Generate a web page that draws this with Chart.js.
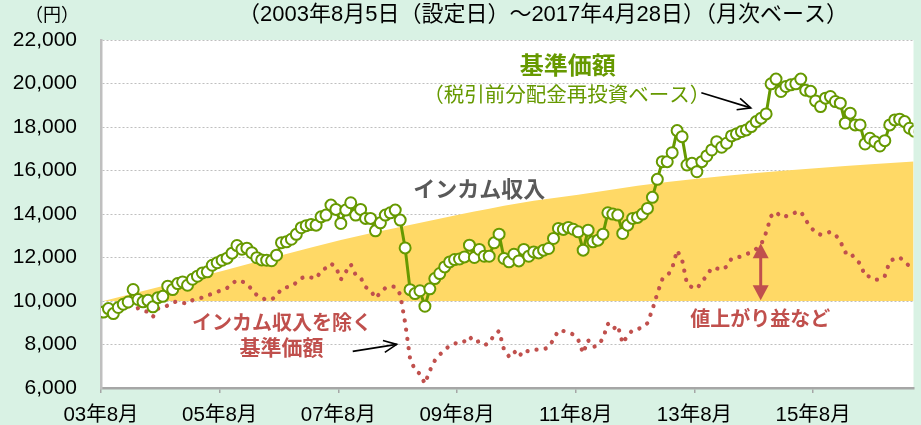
<!DOCTYPE html>
<html lang="ja">
<head>
<meta charset="UTF-8">
<title>基準価額の推移</title>
<script src="https://cdn.jsdelivr.net/npm/chart.js@4.4.1/dist/chart.umd.min.js"></script>
<style>
  html, body { margin: 0; padding: 0; background: #D9F2E4; overflow: hidden; }
  #wrap { width: 921px; height: 425px; }
</style>
</head>
<body>
<div id="wrap"><canvas id="navChart" width="921" height="425"></canvas></div>
<script>
// monthly values, 2003/08 .. 2017/04 (month end)
const startYear = 2003, startMonth = 8;

// 基準価額（税引前分配金再投資ベース）
const navValues = [
  9490, 9650, 9420, 9700, 9850, 9955, 10530, 10070, 9960, 10030,
  9730, 10155, 10215, 10680, 10525, 10800, 10875, 10725, 11000, 11140,
  11290, 11340, 11645, 11760, 11875, 11970, 12200, 12550, 12380, 12430,
  12220, 11990, 11890, 11875, 11850, 12106, 12680, 12720, 12840, 13065,
  13370, 13465, 13520, 13488, 13870, 13950, 14410, 14212, 13565, 14180,
  14516, 13950, 14212, 13797, 13797, 13226, 13595, 13950, 14055, 14180,
  13719, 12440, 10520, 10340, 10470, 9760, 10560, 11030, 11262, 11567,
  11797, 11906, 11930, 12028, 12566, 12000, 12370, 12060, 12060, 12673,
  13073, 11955, 11800, 12150, 11843, 12370, 12060, 12258, 12212, 12336,
  12415, 12875, 13336, 13290, 13382, 13300, 13180, 12336, 13258, 12720,
  12797, 13073, 14055, 13995, 13950, 13105, 13488, 13797, 13843, 13995,
  14258, 14765, 15594, 16405, 16405, 16820, 17834, 17557, 16253, 16330,
  15944, 16405, 16668, 16944, 17327, 17069, 17253, 17589, 17681, 17788,
  17865, 18018, 18248, 18405, 18603, 19986, 20202, 19631, 19861, 19940,
  19986, 20202, 19690, 19640, 19200, 18940, 19327, 19400, 19170, 19095,
  18175, 18636, 18096, 18096, 17221, 17483, 17327, 17129, 17373, 18096,
  18327, 18358, 18248, 17942, 17800
];

// インカム収入を除く基準価額
const exIncomeValues = [
  9493, 9460, 9420, 9600, 9650, 9700, 10090, 9650, 9560, 9500,
  9270, 9650, 9680, 9800, 9930, 9990, 9920, 9880, 10040, 10100,
  10160, 10260, 10330, 10430, 10493, 10600, 10800, 10960, 10900, 10800,
  10525, 10270, 10130, 10065, 10065, 10250, 10560, 10630, 10670, 10850,
  11050, 11130, 11080, 11030, 11380, 11520, 11720, 11560, 10985, 11336,
  11690, 11200, 11078, 10640, 10500, 10130, 10380, 10600, 10680, 10650,
  10309, 9000, 7350, 6830, 6650, 6200, 6800, 7260, 7530, 7770,
  7930, 8060, 8030, 8150, 8370, 8100, 8150, 7980, 8050, 8450,
  8620, 7760, 7452, 7700, 7430, 7740, 7680, 7760, 7760, 7780,
  7870, 8230, 8650, 8620, 8560, 8460, 8220, 7600, 8200, 7890,
  7950, 8280, 8950, 8700, 8880, 8050, 8420, 8660, 8700, 8800,
  8980, 9600, 10350, 10990, 11140, 11500, 12330, 11900, 10780, 10630,
  10570, 10880, 11170, 11520, 11500, 11430, 11580, 11950, 12000, 12050,
  12150, 12250, 12400, 12600, 13150, 13900, 14100, 13860, 13900, 13960,
  14080, 14120, 13720, 13400, 13140, 13050, 13110, 13180, 13050, 12750,
  12230, 12258, 11900, 11730, 11150, 11130, 10980, 10980, 11150, 11830,
  11950, 12010, 11800, 11600, 11450
];

// インカム収入 (10,000円 + 累積インカム), read yearly
const incomeMonths = [0, 12, 24, 36, 48, 60, 72, 84, 96, 108, 120, 132, 144, 156, 164];
const incomeValues = [10000, 10690, 11380, 12100, 12800, 13400, 13980, 14500, 14880, 15300, 15620, 15880, 16100, 16300, 16410];

const xTickMonths = ['2003-08', '2005-08', '2007-08', '2009-08', '2011-08', '2013-08', '2015-08'];
const xTickLabels = ['03年8月', '05年8月', '07年8月', '09年8月', '11年8月', '13年8月', '15年8月'];
const yTickValues = [6000, 8000, 10000, 12000, 14000, 16000, 18000, 20000, 22000];

const GREEN = '#669900', RED = '#C0504D', YELLOW = '#FFD966', GRAY = '#595959';
const FONT = "'Liberation Sans', 'Noto Sans CJK JP', sans-serif";

// month keys
const months = navValues.map((v, i) => {
  const n = startMonth - 1 + i;
  const y = startYear + Math.floor(n / 12), m = n % 12 + 1;
  return y + '-' + String(m).padStart(2, '0');
});
// ticks sit at the start of the month, points at the month end
const xTickPos = xTickMonths.map(k => months.indexOf(k) - 0.5);

const bgPlugin = {
  id: 'bg',
  beforeDraw(chart) {
    const {ctx, chartArea: a} = chart;
    ctx.save();
    ctx.fillStyle = '#D9F2E4';
    ctx.fillRect(0, 0, chart.width, chart.height);
    ctx.fillStyle = '#FFFFFF';
    ctx.fillRect(a.left, a.top, a.right - a.left, a.bottom - a.top);
    ctx.restore();
  }
};

function arrowHead(ctx, x1, y1, x2, y2, len, half, filled) {
  const ang = Math.atan2(y2 - y1, x2 - x1);
  const ax = x2 - len * Math.cos(ang), ay = y2 - len * Math.sin(ang);
  const px = -Math.sin(ang) * half, py = Math.cos(ang) * half;
  ctx.beginPath();
  if (filled) {
    ctx.moveTo(x2, y2);
    ctx.lineTo(ax + px, ay + py);
    ctx.lineTo(ax - px, ay - py);
    ctx.closePath();
    ctx.fill();
  } else {
    ctx.moveTo(ax + px, ay + py);
    ctx.lineTo(x2, y2);
    ctx.lineTo(ax - px, ay - py);
    ctx.stroke();
  }
}

const notesPlugin = {
  id: 'notes',
  afterDraw(chart) {
    const {ctx} = chart;
    const sx = chart.scales.x, sy = chart.scales.y;
    const X = m => sx.getPixelForValue(m), Y = v => sy.getPixelForValue(v);
    ctx.save();
    ctx.textAlign = 'center';
    ctx.textBaseline = 'middle';

    // header texts
    ctx.fillStyle = '#000';
    ctx.font = '22px ' + FONT;
    ctx.fillText('（2003年8月5日（設定日）～2017年4月28日）（月次ベース）', 543, 15);
    ctx.font = '18px ' + FONT;
    ctx.fillText('（円）', 52, 16);

    const notes = [
      {t: '基準価額', m: 93.9, v: 20720, c: GREEN, s: 24, b: true},
      {t: '（税引前分配金再投資ベース）', m: 93.7, v: 19390, c: GREEN, s: 20.5, b: false},
      {t: 'インカム収入', m: 76.0, v: 15055, c: GRAY, s: 22, b: true},
      {t: 'インカム収入を除く', m: 36.1, v: 8926, c: RED, s: 20, b: true},
      {t: '基準価額', m: 36.0, v: 7774, c: RED, s: 21, b: true},
      {t: '値上がり益など', m: 132.8, v: 9110, c: RED, s: 20, b: true}
    ];
    notes.forEach(n => {
      ctx.fillStyle = n.c;
      ctx.font = (n.b ? 'bold ' : '') + n.s + 'px ' + FONT;
      ctx.fillText(n.t, X(n.m), Y(n.v));
    });

    // black pointer arrows
    ctx.strokeStyle = '#000';
    ctx.lineWidth = 1.6;
    [[120.9, 19570, 130.9, 18880], [50.4, 7683, 59.3, 8005]].forEach(a => {
      const x1 = X(a[0]), y1 = Y(a[1]), x2 = X(a[2]), y2 = Y(a[3]);
      ctx.beginPath();
      ctx.moveTo(x1, y1);
      ctx.lineTo(x2, y2);
      ctx.stroke();
      arrowHead(ctx, x1, y1, x2, y2, 13, 6, false);
    });

    // red double arrow (値上がり益)
    const ax = X(132.9), top = Y(12650), bot = Y(10030);
    ctx.strokeStyle = RED;
    ctx.fillStyle = RED;
    ctx.lineWidth = 3;
    ctx.beginPath();
    ctx.moveTo(ax, top + 10);
    ctx.lineTo(ax, bot - 10);
    ctx.stroke();
    arrowHead(ctx, ax, bot, ax, top, 15, 8, true);
    arrowHead(ctx, ax, top, ax, bot, 15, 8, true);
    ctx.restore();
  }
};

const ctx = document.getElementById('navChart').getContext('2d');
const navChart = new Chart(ctx, {
  type: 'line',
  data: {
    datasets: [
      {
        label: '基準価額',
        data: navValues.map((v, i) => ({x: i, y: v})),
        borderColor: GREEN,
        borderWidth: 3,
        pointRadius: 5.5,
        pointBorderWidth: 2,
        pointBackgroundColor: '#FFFFFF',
        pointBorderColor: GREEN
      },
      {
        label: 'インカム収入を除く基準価額',
        data: exIncomeValues.map((v, i) => ({x: i, y: v})),
        borderColor: RED,
        borderWidth: 4.2,
        borderDash: [0.1, 9.2],
        borderCapStyle: 'round',
        pointRadius: 0
      },
      {
        label: 'インカム収入',
        data: incomeMonths.map((m, i) => ({x: m, y: incomeValues[i]})),
        borderWidth: 0,
        borderColor: YELLOW,
        backgroundColor: YELLOW,
        fill: {value: 10000},
        pointRadius: 0,
        cubicInterpolationMode: 'monotone'
      }
    ]
  },
  options: {
    responsive: false,
    animation: false,
    devicePixelRatio: 1,
    layout: {padding: {top: 40, left: 0, right: 0, bottom: 0}},
    plugins: {legend: {display: false}, tooltip: {enabled: false}},
    scales: {
      x: {
        type: 'linear',
        min: -0.5,
        max: 163.8,
        afterBuildTicks: s => { s.ticks = xTickPos.map(v => ({value: v})); },
        afterFit: s => { s.height = 37; },
        ticks: {
          callback: (v, i) => xTickLabels[i],
          font: {size: 20.5, family: FONT},
          color: '#000',
          padding: 10,
          maxRotation: 0,
          autoSkip: false
        },
        grid: {drawOnChartArea: false, drawTicks: true, tickLength: 5, color: '#A6A6A6', lineWidth: 1.5},
        border: {color: '#A6A6A6', width: 2.5}
      },
      y: {
        min: 6000,
        max: 22000,
        afterBuildTicks: s => { s.ticks = yTickValues.map(v => ({value: v})); },
        afterFit: s => { s.width = 101; },
        ticks: {
          callback: v => v.toLocaleString('en-US'),
          font: {size: 21, family: FONT},
          color: '#000',
          padding: 24
        },
        grid: {color: '#BFBFBF', lineWidth: 1, drawTicks: false},
        border: {color: '#BFBFBF', width: 2.5, dash: [2, 2]}
      }
    }
  },
  plugins: [bgPlugin, notesPlugin]
});
</script>
</body>
</html>
